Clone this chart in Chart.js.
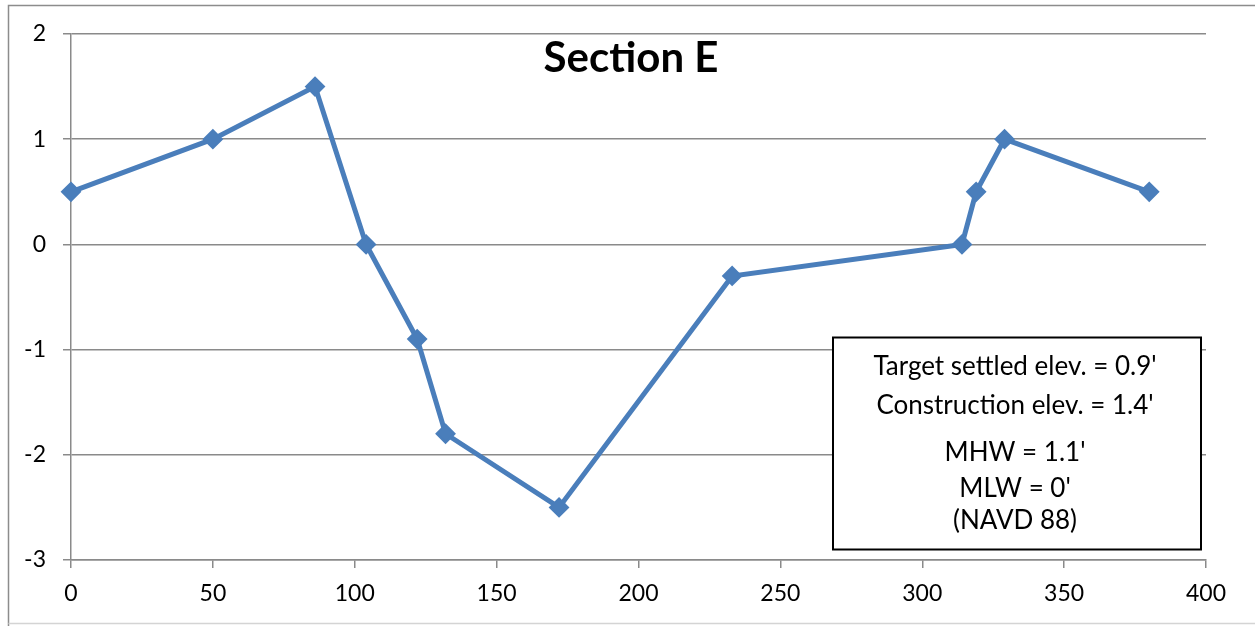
<!DOCTYPE html>
<html>
<head>
<meta charset="utf-8">
<title>Section E</title>
<script src="https://cdn.jsdelivr.net/npm/chart.js@4.4.1/dist/chart.umd.min.js"></script>
<style>
  html, body { margin: 0; padding: 0; background: #ffffff; }
  #wrap { width: 1255px; height: 626px; position: relative; }
</style>
</head>
<body>
<div id="wrap"><canvas id="chart"></canvas></div>
<script>
// Cross-section survey: station (ft) vs. elevation (ft, NAVD 88)
const stationFt   = [0, 50, 86, 104, 122, 132, 172, 233, 314, 319, 329, 380];
const elevationFt = [0.5, 1, 1.5, 0, -0.9, -1.8, -2.5, -0.3, 0, 0.5, 1, 0.5];

const chartTitle = 'Section E';
const noteLines = [
  "Target settled elev. = 0.9'",
  "Construction elev. = 1.4'",
  "MHW = 1.1'",
  "MLW = 0'",
  "(NAVD 88)"
];

const xRange = { min: 0, max: 400, step: 50 };
const yRange = { min: -3, max: 2, step: 1 };

const FONT = 'Lato, "Open Sans", "DejaVu Sans", sans-serif';
const LINE_BLUE = '#4a7ebb';
const GRID_GRAY = '#8a8a8a';

// Frame, title and the notes box drawn on the canvas
const decorations = {
  id: 'decorations',
  beforeDraw(chart) {
    const ctx = chart.ctx;
    ctx.save();
    ctx.fillStyle = '#ffffff';
    ctx.fillRect(0, 0, chart.width, chart.height);
    ctx.lineWidth = 1.5;
    ctx.strokeStyle = '#8c8c8c';
    ctx.beginPath();
    ctx.moveTo(8.5, chart.height);
    ctx.lineTo(8.5, 5.5);
    ctx.lineTo(chart.width, 5.5);
    ctx.stroke();
    ctx.strokeStyle = '#d4d4d4';
    ctx.beginPath();
    ctx.moveTo(8.5, 623.5);
    ctx.lineTo(chart.width, 623.5);
    ctx.stroke();
    ctx.restore();
  },
  afterDraw(chart) {
    const ctx = chart.ctx;
    ctx.save();
    // title
    ctx.fillStyle = '#000000';
    ctx.font = 'bold 42px ' + FONT;
    ctx.textAlign = 'center';
    ctx.textBaseline = 'alphabetic';
    ctx.fillText(chartTitle, 631, 72);

    // notes box
    const bx = 833, by = 337.5, bw = 368, bh = 212;
    ctx.fillStyle = '#ffffff';
    ctx.fillRect(bx, by, bw, bh);
    ctx.lineWidth = 2;
    ctx.strokeStyle = '#000000';
    ctx.strokeRect(bx, by, bw, bh);
    ctx.fillStyle = '#000000';
    ctx.font = '26px ' + FONT;
    const baselines = [375, 414, 461, 497, 529];
    noteLines.forEach((t, i) => ctx.fillText(t, bx + bw / 2 - 2, baselines[i]));
    ctx.restore();
  }
};

new Chart(document.getElementById('chart'), {
  type: 'scatter',
  data: {
    datasets: [{
      label: chartTitle,
      data: stationFt.map((x, i) => ({ x: x, y: elevationFt[i] })),
      showLine: true,
      borderColor: LINE_BLUE,
      backgroundColor: LINE_BLUE,
      borderWidth: 5,
      tension: 0,
      pointStyle: 'rectRot',
      pointRadius: 9,
      pointHoverRadius: 9,
      pointBorderWidth: 2,
      pointBorderColor: LINE_BLUE,
      pointBackgroundColor: LINE_BLUE,
      clip: false
    }]
  },
  options: {
    responsive: true,
    maintainAspectRatio: false,
    animation: false,
    events: [],
    layout: { padding: { left: 8, top: 34, right: 49, bottom: 0 } },
    plugins: {
      legend: { display: false },
      title: { display: false },
      tooltip: { enabled: false }
    },
    scales: {
      x: {
        type: 'linear',
        position: 'bottom',
        min: xRange.min,
        max: xRange.max,
        afterFit(scale) { scale.height = 66; },
        ticks: {
          stepSize: xRange.step,
          color: '#000000',
          font: { family: FONT, size: 23 },
          padding: 12,
          maxRotation: 0
        },
        grid: {
          drawOnChartArea: false,
          drawTicks: true,
          tickLength: 8,
          color: GRID_GRAY,
          lineWidth: 1.5
        },
        border: { display: true, color: GRID_GRAY, width: 1.5 }
      },
      y: {
        type: 'linear',
        position: 'left',
        min: yRange.min,
        max: yRange.max,
        afterFit(scale) { scale.width = 63; },
        ticks: {
          stepSize: yRange.step,
          color: '#000000',
          font: { family: FONT, size: 23 },
          padding: 17
        },
        grid: {
          drawOnChartArea: true,
          drawTicks: true,
          tickLength: 8,
          color: GRID_GRAY,
          lineWidth: 1.5
        },
        border: { display: true, color: GRID_GRAY, width: 1.5 }
      }
    }
  },
  plugins: [decorations]
});
</script>
</body>
</html>
